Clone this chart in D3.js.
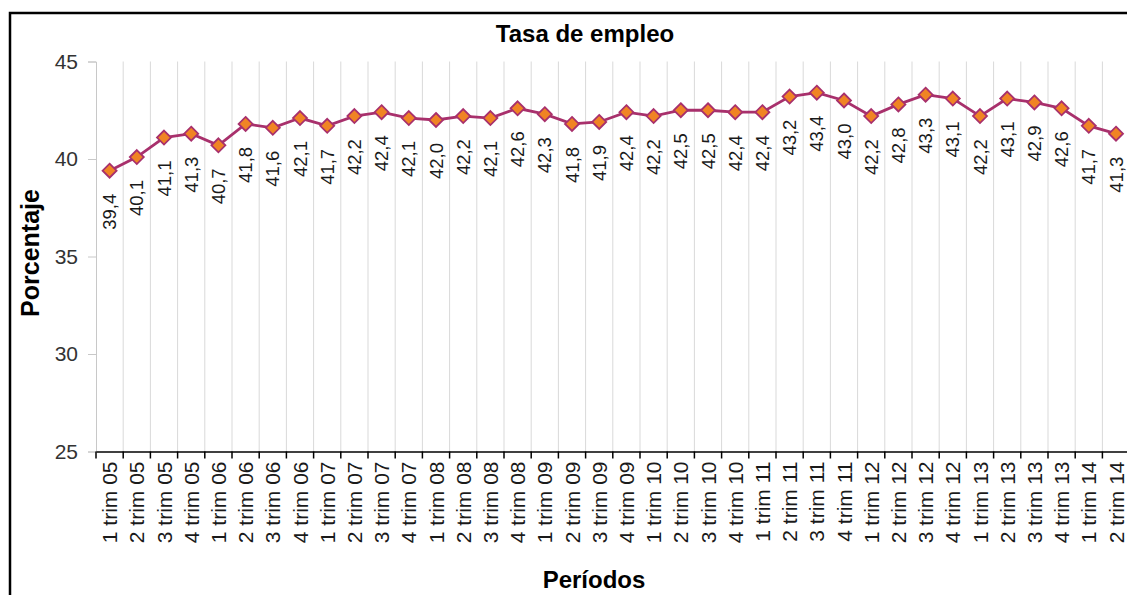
<!DOCTYPE html>
<html>
<head>
<meta charset="utf-8">
<script src="https://cdn.jsdelivr.net/npm/d3@7"></script>
<style>
  html, body { margin: 0; padding: 0; background: #fff; }
  svg { display: block; font-family: "Liberation Sans", Arial, sans-serif; }
</style>
</head>
<body>
<svg width="1127" height="595"></svg>
<script>
const periods = [
  "1 trim 05", "2 trim 05", "3 trim 05", "4 trim 05",
  "1 trim 06", "2 trim 06", "3 trim 06", "4 trim 06",
  "1 trim 07", "2 trim 07", "3 trim 07", "4 trim 07",
  "1 trim 08", "2 trim 08", "3 trim 08", "4 trim 08",
  "1 trim 09", "2 trim 09", "3 trim 09", "4 trim 09",
  "1 trim 10", "2 trim 10", "3 trim 10", "4 trim 10",
  "1 trim 11", "2 trim 11", "3 trim 11", "4 trim 11",
  "1 trim 12", "2 trim 12", "3 trim 12", "4 trim 12",
  "1 trim 13", "2 trim 13", "3 trim 13", "4 trim 13",
  "1 trim 14", "2 trim 14"
];
const employmentRate = [
  39.4, 40.1, 41.1, 41.3,
  40.7, 41.8, 41.6, 42.1,
  41.7, 42.2, 42.4, 42.1,
  42.0, 42.2, 42.1, 42.6,
  42.3, 41.8, 41.9, 42.4,
  42.2, 42.5, 42.5, 42.4,
  42.4, 43.2, 43.4, 43.0,
  42.2, 42.8, 43.3, 43.1,
  42.2, 43.1, 42.9, 42.6,
  41.7, 41.3
];
const yTicks = [25, 30, 35, 40, 45];

const svg = d3.select("svg");
const comma = d3.formatLocale({ decimal: ",", thousands: ".", grouping: [3], currency: ["", ""] }).format(".1f");

const x = d3.scaleBand().domain(periods).range([96, 1129.6]).padding(0);
const y = d3.scaleLinear().domain([25, 45]).range([451.5, 61.5]);
const cx = (d, i) => x(periods[i]) + x.bandwidth() / 2;

// chart border
svg.append("rect")
   .attr("x", 10).attr("y", 13)
   .attr("width", 1200).attr("height", 700)
   .attr("fill", "none")
   .attr("stroke", "#000")
   .attr("stroke-width", 2.5);

// vertical gridlines at category boundaries
svg.append("g")
   .selectAll("line")
   .data(periods.slice(1))
   .enter().append("line")
   .attr("x1", (d) => x(d)).attr("x2", (d) => x(d))
   .attr("y1", y(45)).attr("y2", y(25))
   .attr("stroke", "#d9d9d9")
   .attr("stroke-width", 1);

// y axis
const yAxis = svg.append("g")
   .attr("transform", "translate(96,0)")
   .call(d3.axisLeft(y).tickValues(yTicks).tickSize(8).tickPadding(10));
yAxis.select(".domain").attr("stroke", "#c8c8c8");
yAxis.selectAll(".tick line").attr("stroke", "#c8c8c8");
yAxis.selectAll(".tick text")
     .attr("font-size", "21px")
     .attr("font-family", "Liberation Sans, Arial, sans-serif")
     .attr("fill", "#333");

// x axis
const xAxis = svg.append("g")
   .attr("transform", `translate(0,${y(25)})`)
   .call(d3.axisBottom(x).tickSize(0).tickFormat(""));
xAxis.select(".domain").attr("stroke", "#000").attr("stroke-width", 1.6);

svg.append("g")
   .selectAll("line")
   .data(periods)
   .enter().append("line")
   .attr("x1", (d) => x(d)).attr("x2", (d) => x(d))
   .attr("y1", y(25)).attr("y2", y(25) + 7)
   .attr("stroke", "#000")
   .attr("stroke-width", 1.5);

svg.append("g")
   .selectAll("text")
   .data(periods)
   .enter().append("text")
   .attr("transform", (d) => `translate(${x(d) + x.bandwidth() / 2 + 7.5},${y(25) + 10}) rotate(-90)`)
   .attr("text-anchor", "end")
   .attr("font-size", "21px")
   .attr("fill", "#1a1a1a")
   .text((d) => d);

// line
const line = d3.line()
   .x(cx)
   .y((d) => y(d));

svg.append("path")
   .datum(employmentRate)
   .attr("d", line)
   .attr("fill", "none")
   .attr("stroke", "#a8306c")
   .attr("stroke-width", 2.8);

// markers
svg.append("g")
   .selectAll("path")
   .data(employmentRate)
   .enter().append("path")
   .attr("transform", (d, i) => `translate(${cx(d, i)},${y(d)})`)
   .attr("d", "M0,-7L7,0L0,7L-7,0Z")
   .attr("fill", "#f08424")
   .attr("stroke", "#a8306c")
   .attr("stroke-width", 1.8);

// data labels
svg.append("g")
   .selectAll("text")
   .data(employmentRate)
   .enter().append("text")
   .attr("transform", (d, i) => `translate(${cx(d, i) + 6.5},${y(d) + 23}) rotate(-90)`)
   .attr("text-anchor", "end")
   .attr("font-size", "18.5px")
   .attr("fill", "#1a1a1a")
   .text((d) => comma(d));

// titles
svg.append("text")
   .attr("x", 585).attr("y", 42)
   .attr("text-anchor", "middle")
   .attr("font-size", "24px")
   .attr("font-weight", "bold")
   .attr("fill", "#000")
   .text("Tasa de empleo");

svg.append("text")
   .attr("x", 594).attr("y", 588)
   .attr("text-anchor", "middle")
   .attr("font-size", "24px")
   .attr("font-weight", "bold")
   .attr("fill", "#000")
   .text("Períodos");

svg.append("text")
   .attr("transform", "translate(39,253) rotate(-90)")
   .attr("text-anchor", "middle")
   .attr("font-size", "25px")
   .attr("font-weight", "bold")
   .attr("fill", "#000")
   .text("Porcentaje");
</script>
</body>
</html>
